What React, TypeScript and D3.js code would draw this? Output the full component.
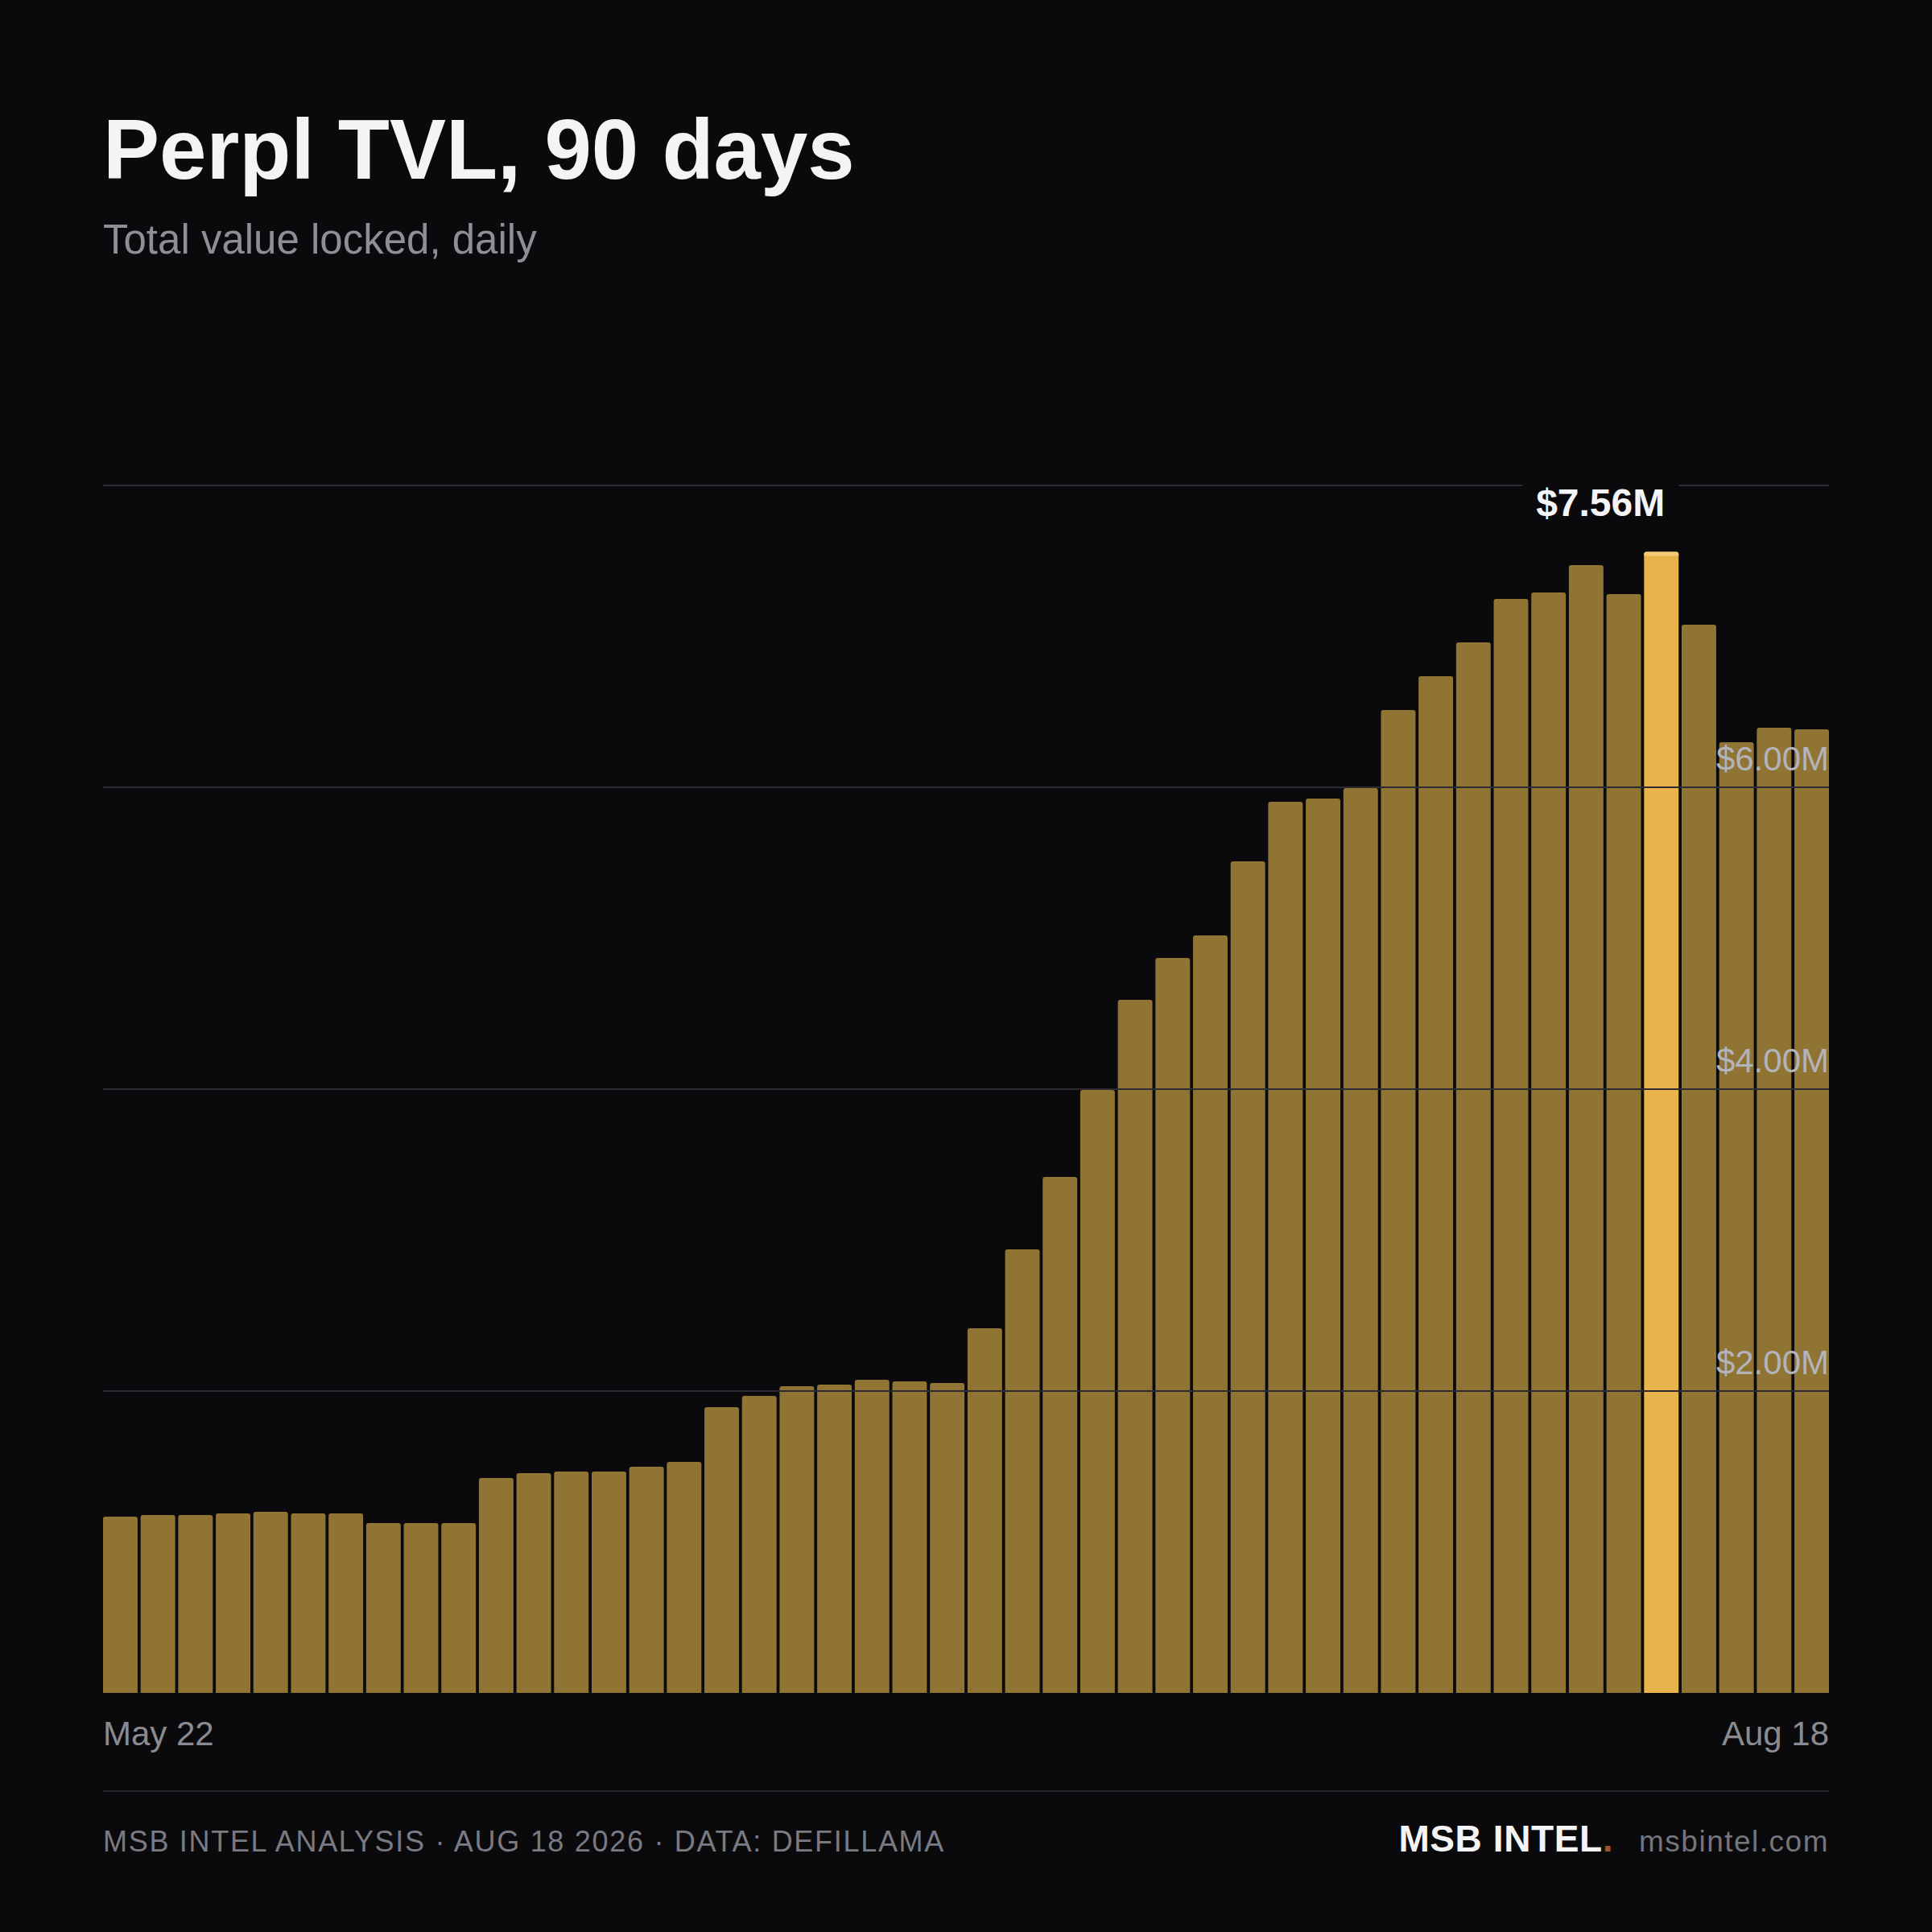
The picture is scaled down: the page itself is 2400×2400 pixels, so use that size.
import React, { useEffect, useRef } from "react";
import * as d3 from "d3";

// TVL in $M, one bar per period
const tvl = [
  1.168, 1.179, 1.179, 1.189, 1.2, 1.189, 1.189, 1.125, 1.125, 1.125,
  1.424, 1.456, 1.467, 1.467, 1.499, 1.531,
  1.893, 1.968, 2.032, 2.043, 2.075, 2.064, 2.053, 2.416, 2.939, 3.419,
  3.995, 4.592, 4.869, 5.019, 5.509, 5.904, 5.925, 5.995,
  6.512, 6.736, 6.96, 7.248, 7.291, 7.472, 7.28, 7.56, 7.077, 6.299, 6.395, 6.384,
];
const gridTicks = [2, 4, 6, 8];
const labeledTicks = [2, 4, 6];
const dateLabels = ["May 22", "Aug 18"];
const footerNote = "MSB INTEL ANALYSIS · AUG 18 2026 · DATA: DEFILLAMA";

const W = 2400;
const H = 2400;
const BG = "#0a0a0c";
const FONT = "'Liberation Sans', Arial, Helvetica, sans-serif";

function topRoundedBar(x: number, y: number, w: number, h: number, r: number) {
  const rr = Math.min(r, h, w / 2);
  return `M${x},${y + h}V${y + rr}Q${x},${y} ${x + rr},${y}H${x + w - rr}Q${x + w},${y} ${x + w},${y + rr}V${y + h}Z`;
}

const App: React.FC = () => {
  const svgRef = useRef<SVGSVGElement | null>(null);

  useEffect(() => {
    const svg = d3.select(svgRef.current);
    svg.selectAll("*").remove();
    svg.attr("font-family", FONT);

    svg.append("rect").attr("width", W).attr("height", H).attr("fill", BG);

    const left = 128;
    const right = 2272;
    const top = 603;
    const bottom = 2103;

    const x = d3
      .scaleBand<number>()
      .domain(d3.range(tvl.length))
      .range([left, right])
      .paddingInner(0.08)
      .paddingOuter(0);
    const y = d3.scaleLinear().domain([0, 8]).range([bottom, top]);
    const peak = d3.maxIndex(tvl);

    // header
    svg
      .append("text")
      .attr("x", left)
      .attr("y", 222)
      .attr("fill", "#f4f4f6")
      .attr("font-size", 105)
      .attr("font-weight", 700)
      .text("Perpl TVL, 90 days");
    svg
      .append("text")
      .attr("x", left)
      .attr("y", 315)
      .attr("fill", "#8e8e96")
      .attr("font-size", 51)
      .text("Total value locked, daily");

    // bars
    svg
      .append("g")
      .selectAll("path")
      .data(tvl)
      .join("path")
      .attr("d", (d, i) => topRoundedBar(x(i)!, y(d), x.bandwidth(), bottom - y(d), 3))
      .attr("fill", (d, i) => (i === peak ? "#e8b34b" : "#8f7434"));

    svg
      .append("path")
      .attr("d", topRoundedBar(x(peak)!, y(tvl[peak]), x.bandwidth(), 5, 3))
      .attr("fill", "#f3cb78");

    // gridlines sit on top of the bars
    svg
      .append("g")
      .selectAll("line")
      .data(gridTicks)
      .join("line")
      .attr("x1", left)
      .attr("x2", right)
      .attr("y1", (d) => y(d))
      .attr("y2", (d) => y(d))
      .attr("stroke", "#2c2b31")
      .attr("stroke-width", 2);

    svg
      .append("g")
      .selectAll("text")
      .data(labeledTicks)
      .join("text")
      .attr("x", right)
      .attr("y", (d) => y(d) - 21)
      .attr("text-anchor", "end")
      .attr("font-size", 42)
      .attr("fill", "#b3b3ba")
      .text((d) => `$${d.toFixed(2)}M`);

    // peak callout
    const peakG = svg.append("g");
    const box = peakG.append("rect").attr("fill", BG);
    const label = peakG
      .append("text")
      .attr("font-size", 48)
      .attr("font-weight", 700)
      .attr("fill", "#f4f4f6")
      .attr("text-anchor", "middle")
      .text(`$${tvl[peak].toFixed(2)}M`);
    const tw = (label.node() as SVGTextElement).getComputedTextLength();
    const bw = tw + 34;
    const bx = x(peak)! + x.bandwidth() - bw;
    const ly = y(tvl[peak]) - 45;
    box.attr("x", bx).attr("y", ly - 57).attr("width", bw).attr("height", 75);
    label.attr("x", bx + bw / 2).attr("y", ly);

    // date range
    svg
      .append("g")
      .selectAll("text")
      .data(dateLabels)
      .join("text")
      .attr("x", (d, i) => (i === 0 ? left : right))
      .attr("y", bottom + 65)
      .attr("text-anchor", (d, i) => (i === 0 ? "start" : "end"))
      .attr("font-size", 42)
      .attr("fill", "#8a8a92")
      .text((d) => d);

    // footer
    svg
      .append("line")
      .attr("x1", left)
      .attr("x2", right)
      .attr("y1", 2225)
      .attr("y2", 2225)
      .attr("stroke", "#27262c")
      .attr("stroke-width", 2);

    svg
      .append("text")
      .attr("x", left)
      .attr("y", 2300)
      .attr("font-size", 36)
      .attr("letter-spacing", 1.7)
      .attr("fill", "#7a7a82")
      .text(footerNote);

    const site = svg
      .append("text")
      .attr("x", right)
      .attr("y", 2300)
      .attr("text-anchor", "end")
      .attr("font-size", 37)
      .attr("letter-spacing", 1.5)
      .attr("fill", "#75757d")
      .text("msbintel.com");
    const siteW = (site.node() as SVGTextElement).getComputedTextLength();

    const brand = svg
      .append("text")
      .attr("x", right - siteW - 32)
      .attr("y", 2300)
      .attr("text-anchor", "end")
      .attr("font-size", 46)
      .attr("font-weight", 700)
      .attr("letter-spacing", 0.6)
      .attr("fill", "#f4f4f6");
    brand.append("tspan").text("MSB INTEL");
    brand.append("tspan").attr("fill", "#9a5530").text(".");
  }, []);

  return (
    <svg
      ref={svgRef}
      width={W}
      height={H}
      style={{ position: "absolute", left: 0, top: 0, display: "block" }}
    />
  );
};

export default App;
